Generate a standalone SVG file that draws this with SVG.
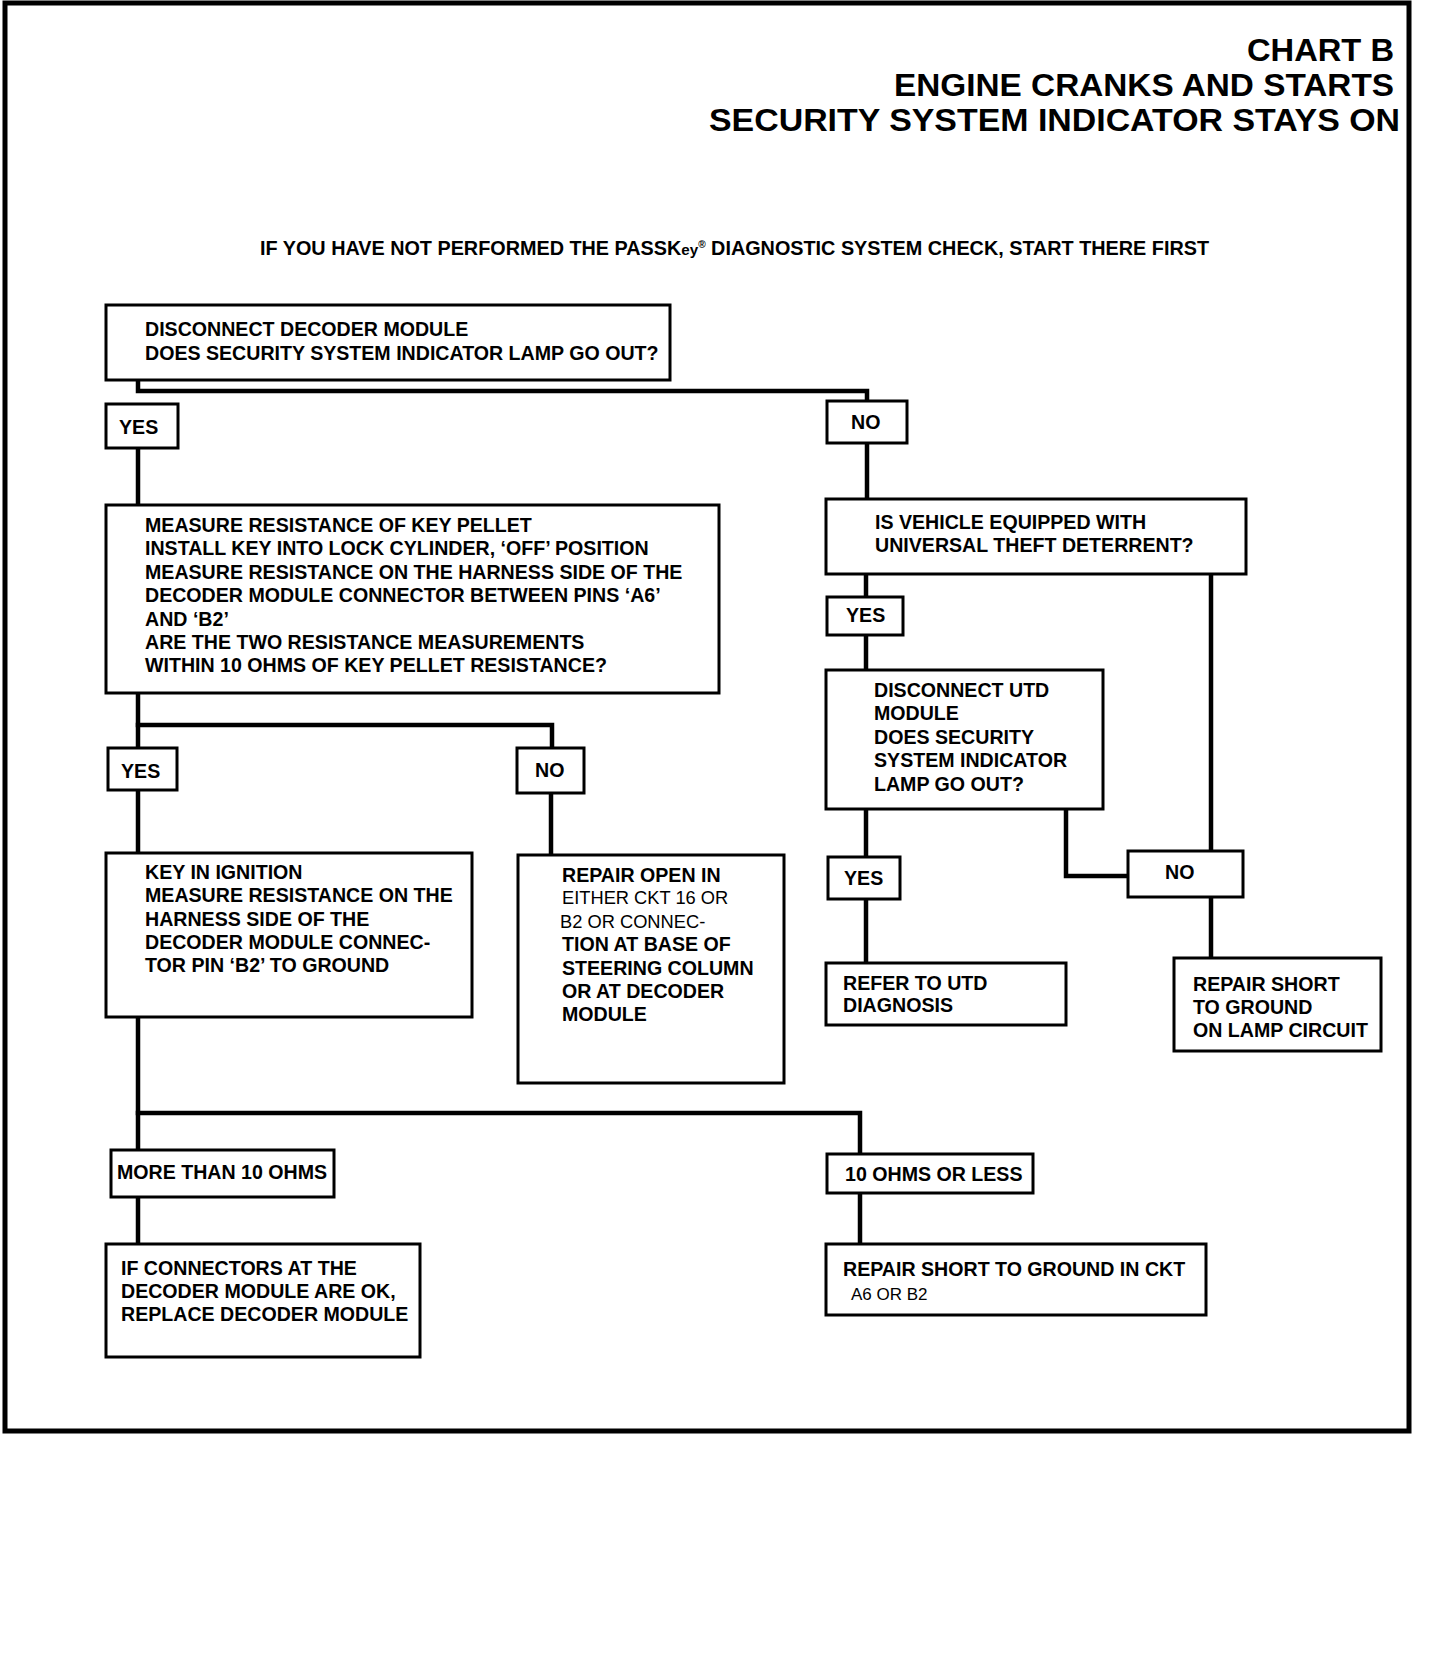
<svg xmlns="http://www.w3.org/2000/svg" width="1440" height="1668" viewBox="0 0 1440 1668">
<style>
  .bg { fill: #ffffff; }
  .frame { fill: none; stroke: #000; stroke-width: 5; }
  .box { fill: #ffffff; stroke: #000; stroke-width: 3; }
  .conn { fill: none; stroke: #000; stroke-width: 4.5; stroke-linecap: square; stroke-linejoin: miter; }
  .t { font-family: "Liberation Sans", Arial, sans-serif; font-weight: bold; font-size: 19.6px; fill: #000; }
  .r { font-family: "Liberation Sans", Arial, sans-serif; font-weight: normal; font-size: 18.3px; fill: #000; }
  .title { font-family: "Liberation Sans", Arial, sans-serif; font-weight: bold; font-size: 31px; fill: #000; text-anchor: end; }
</style>
<rect class="bg" x="0" y="0" width="1440" height="1668"/>
<rect class="frame" x="5" y="3" width="1404" height="1428"/>

<g id="title">
  <text class="title" x="1394" y="61" textLength="147" lengthAdjust="spacingAndGlyphs">CHART B</text>
  <text class="title" x="1394" y="96" textLength="500" lengthAdjust="spacingAndGlyphs">ENGINE CRANKS AND STARTS</text>
  <text class="title" x="1400" y="131" textLength="691" lengthAdjust="spacingAndGlyphs">SECURITY SYSTEM INDICATOR STAYS ON</text>
  <text class="t" x="260" y="255" textLength="949" lengthAdjust="spacingAndGlyphs">IF YOU HAVE NOT PERFORMED THE PASSK<tspan style="font-size:15px">ey</tspan><tspan style="font-size:10px" dy="-7">®</tspan><tspan dy="7"> DIAGNOSTIC SYSTEM CHECK, START THERE FIRST</tspan></text>
</g>

<g id="connectors">
  <polyline class="conn" points="138,380 138,391 867,391 867,401"/>
  <line class="conn" x1="138" y1="448" x2="138" y2="505"/>
  <line class="conn" x1="867" y1="443" x2="867" y2="499"/>
  <polyline class="conn" points="138,693 138,748"/>
  <polyline class="conn" points="138,725 552,725 552,748"/>
  <line class="conn" x1="138" y1="790" x2="138" y2="853"/>
  <line class="conn" x1="551" y1="793" x2="551" y2="855"/>
  <line class="conn" x1="138" y1="1017" x2="138" y2="1150"/>
  <polyline class="conn" points="138,1113 860,1113 860,1154"/>
  <line class="conn" x1="138" y1="1197" x2="138" y2="1244"/>
  <line class="conn" x1="860" y1="1193" x2="860" y2="1244"/>
  <line class="conn" x1="866" y1="574" x2="866" y2="597"/>
  <line class="conn" x1="1211" y1="574" x2="1211" y2="851"/>
  <line class="conn" x1="866" y1="635" x2="866" y2="670"/>
  <line class="conn" x1="866" y1="809" x2="866" y2="857"/>
  <polyline class="conn" points="1066,809 1066,876 1128,876"/>
  <line class="conn" x1="1211" y1="897" x2="1211" y2="958"/>
  <line class="conn" x1="866" y1="899" x2="866" y2="963"/>
</g>

<g id="n-disconnect-decoder">
  <rect class="box" x="106" y="305" width="564" height="75"/>
  <text class="t" x="145" y="336">DISCONNECT DECODER MODULE</text>
  <text class="t" x="145" y="360">DOES SECURITY SYSTEM INDICATOR LAMP GO OUT?</text>
</g>

<g id="l-yes1">
  <rect class="box" x="106" y="404" width="72" height="44"/>
  <text class="t" x="119" y="434">YES</text>
</g>

<g id="l-no1">
  <rect class="box" x="827" y="401" width="80" height="42"/>
  <text class="t" x="851" y="429">NO</text>
</g>

<g id="n-measure">
  <rect class="box" x="106" y="505" width="613" height="188"/>
  <text class="t" x="145" y="532">MEASURE RESISTANCE OF KEY PELLET</text>
  <text class="t" x="145" y="555">INSTALL KEY INTO LOCK CYLINDER, ‘OFF’ POSITION</text>
  <text class="t" x="145" y="579">MEASURE RESISTANCE ON THE HARNESS SIDE OF THE</text>
  <text class="t" x="145" y="602">DECODER MODULE CONNECTOR BETWEEN PINS ‘A6’</text>
  <text class="t" x="145" y="626">AND ‘B2’</text>
  <text class="t" x="145" y="649">ARE THE TWO RESISTANCE MEASUREMENTS</text>
  <text class="t" x="145" y="672">WITHIN 10 OHMS OF KEY PELLET RESISTANCE?</text>
</g>

<g id="l-yes2">
  <rect class="box" x="108" y="748" width="69" height="42"/>
  <text class="t" x="121" y="778">YES</text>
</g>

<g id="l-no2">
  <rect class="box" x="517" y="748" width="67" height="45"/>
  <text class="t" x="535" y="777">NO</text>
</g>

<g id="n-key-ignition">
  <rect class="box" x="106" y="853" width="366" height="164"/>
  <text class="t" x="145" y="879">KEY IN IGNITION</text>
  <text class="t" x="145" y="902">MEASURE RESISTANCE ON THE</text>
  <text class="t" x="145" y="926">HARNESS SIDE OF THE</text>
  <text class="t" x="145" y="949">DECODER MODULE CONNEC-</text>
  <text class="t" x="145" y="972">TOR PIN ‘B2’ TO GROUND</text>
</g>

<g id="n-repair-open">
  <rect class="box" x="518" y="855" width="266" height="228"/>
  <text class="t" x="562" y="882">REPAIR OPEN IN</text>
  <text class="r" x="562" y="904">EITHER CKT 16 OR</text>
  <text class="r" x="560" y="928">B2 OR CONNEC-</text>
  <text class="t" x="562" y="951">TION AT BASE OF</text>
  <text class="t" x="562" y="975">STEERING COLUMN</text>
  <text class="t" x="562" y="998">OR AT DECODER</text>
  <text class="t" x="562" y="1021">MODULE</text>
</g>

<g id="l-more10">
  <rect class="box" x="111" y="1150" width="223" height="47"/>
  <text class="t" x="117" y="1179">MORE THAN 10 OHMS</text>
</g>

<g id="n-replace-decoder">
  <rect class="box" x="106" y="1244" width="314" height="113"/>
  <text class="t" x="121" y="1275">IF CONNECTORS AT THE</text>
  <text class="t" x="121" y="1298">DECODER MODULE ARE OK,</text>
  <text class="t" x="121" y="1321">REPLACE DECODER MODULE</text>
</g>

<g id="l-10less">
  <rect class="box" x="827" y="1154" width="206" height="39"/>
  <text class="t" x="845" y="1181">10 OHMS OR LESS</text>
</g>

<g id="n-repair-short-ckt">
  <rect class="box" x="826" y="1244" width="380" height="71"/>
  <text class="t" x="843" y="1276">REPAIR SHORT TO GROUND IN CKT</text>
  <text class="r" x="851" y="1300" style="font-size:17px">A6 OR B2</text>
</g>

<g id="n-utd-equipped">
  <rect class="box" x="826" y="499" width="420" height="75"/>
  <text class="t" x="875" y="529">IS VEHICLE EQUIPPED WITH</text>
  <text class="t" x="875" y="552">UNIVERSAL THEFT DETERRENT?</text>
</g>

<g id="l-yes3">
  <rect class="box" x="827" y="597" width="76" height="38"/>
  <text class="t" x="846" y="622">YES</text>
</g>

<g id="n-disconnect-utd">
  <rect class="box" x="826" y="670" width="277" height="139"/>
  <text class="t" x="874" y="697">DISCONNECT UTD</text>
  <text class="t" x="874" y="720">MODULE</text>
  <text class="t" x="874" y="744">DOES SECURITY</text>
  <text class="t" x="874" y="767">SYSTEM INDICATOR</text>
  <text class="t" x="874" y="791">LAMP GO OUT?</text>
</g>

<g id="l-yes4">
  <rect class="box" x="828" y="857" width="72" height="42"/>
  <text class="t" x="844" y="885">YES</text>
</g>

<g id="l-no3">
  <rect class="box" x="1128" y="851" width="115" height="46"/>
  <text class="t" x="1165" y="879">NO</text>
</g>

<g id="n-refer-utd">
  <rect class="box" x="826" y="963" width="240" height="62"/>
  <text class="t" x="843" y="990">REFER TO UTD</text>
  <text class="t" x="843" y="1012">DIAGNOSIS</text>
</g>

<g id="n-repair-short-lamp">
  <rect class="box" x="1174" y="958" width="207" height="93"/>
  <text class="t" x="1193" y="991">REPAIR SHORT</text>
  <text class="t" x="1193" y="1014">TO GROUND</text>
  <text class="t" x="1193" y="1037">ON LAMP CIRCUIT</text>
</g>
</svg>
